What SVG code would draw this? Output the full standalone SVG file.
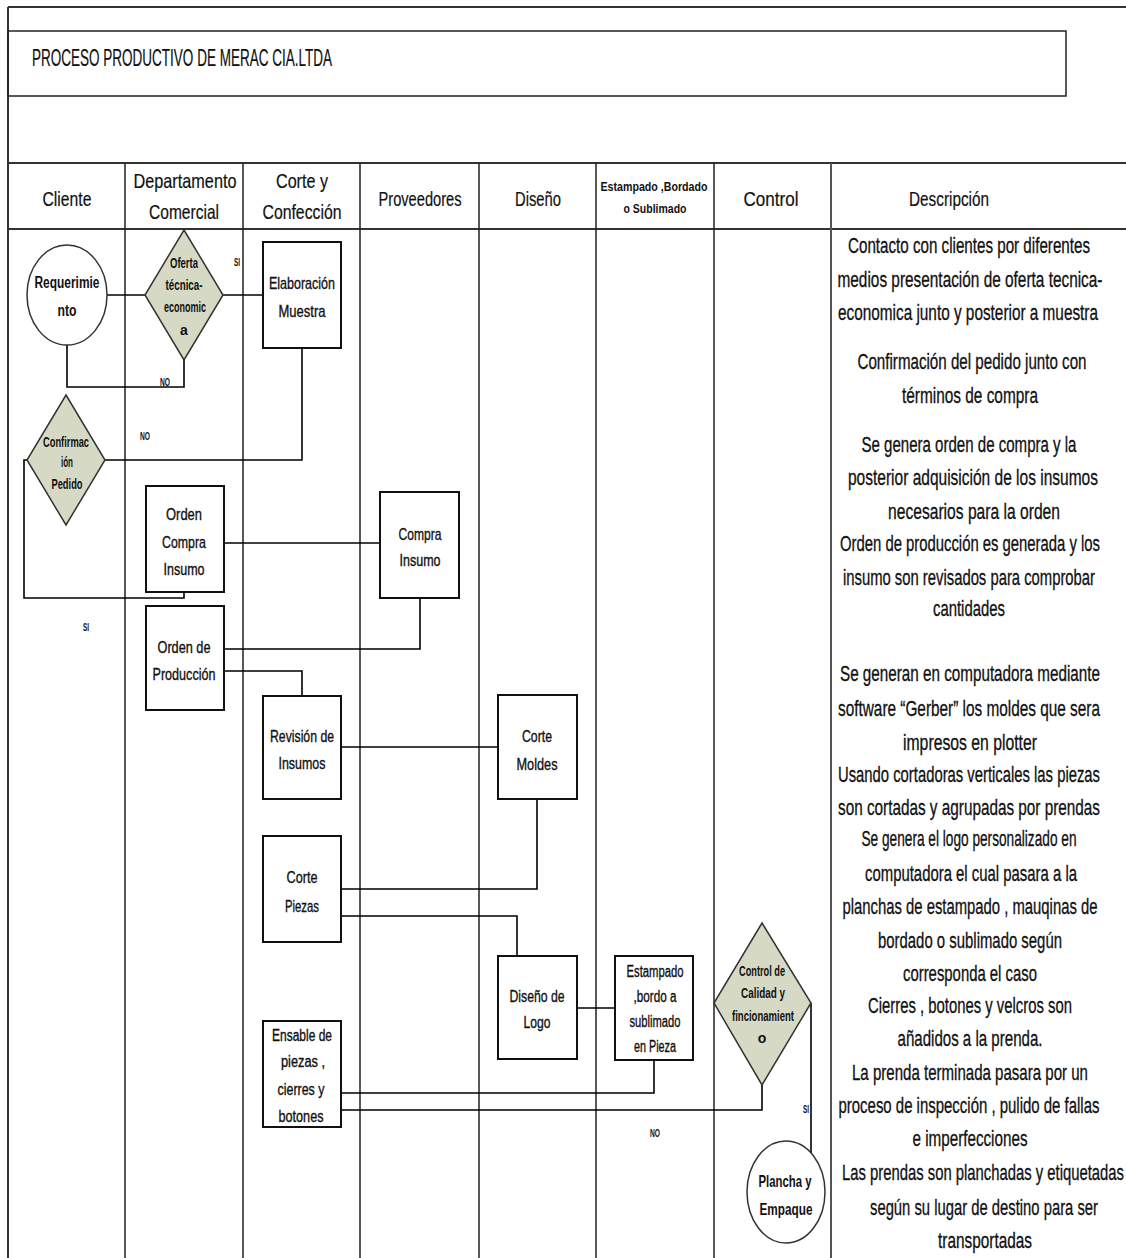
<svg xmlns="http://www.w3.org/2000/svg" width="1126" height="1258" viewBox="0 0 1126 1258">
<style>
text{font-family:"Liberation Sans",Arial,sans-serif;fill:#111}
.frame{stroke:#333;stroke-width:2;fill:none}
.lane{stroke:#222;stroke-width:1.5}
.box{fill:#fff;stroke:#111;stroke-width:2}
.dia{fill:#d6dac4;stroke:#333;stroke-width:1.5}
.circ{fill:#fff;stroke:#333;stroke-width:1.5}
.conn path{fill:none;stroke:#000;stroke-width:1.6}
.h{font-size:21px;text-anchor:middle;stroke:#111;stroke-width:0.2}
.d{font-size:13.75px;text-anchor:middle;stroke:#111;stroke-width:0.2}
.n{font-size:17px;text-anchor:middle;stroke:#111;stroke-width:0.35}
.s{font-size:16px;text-anchor:middle;stroke:#111;stroke-width:0.35}
.m{font-size:14px;text-anchor:middle;font-weight:bold}
.lbl{font-size:10px;text-anchor:middle;font-weight:bold}
</style>
<rect width="1126" height="1258" fill="#fff"/>
<g id="frame">
<path class="frame" d="M8,7 H1126 M8,7 V1258 M8,163 H1126 M8,229 H1126"/>
<rect x="8" y="31" width="1058" height="65" fill="none" stroke="#222" stroke-width="1.5"/>
<text x="32" y="66" font-size="23" stroke="#111" stroke-width="0.2" textLength="300" lengthAdjust="spacingAndGlyphs">PROCESO PRODUCTIVO DE MERAC CIA.LTDA</text>
</g>
<g id="lanes">
<path class="lane" d="M125,163 V1258 M243,163 V1258 M360,163 V1258 M479,163 V1258 M596,163 V1258 M714,163 V1258"/>
<path d="M831,163 V1258" stroke="#555" stroke-width="2"/>
<text class="h" x="67" y="206" textLength="49" lengthAdjust="spacingAndGlyphs">Cliente</text>
<text class="h" x="185" y="188" textLength="103" lengthAdjust="spacingAndGlyphs">Departamento</text>
<text class="h" x="184" y="219" textLength="70" lengthAdjust="spacingAndGlyphs">Comercial</text>
<text class="h" x="302" y="188" textLength="52" lengthAdjust="spacingAndGlyphs">Corte y</text>
<text class="h" x="302" y="219" textLength="79" lengthAdjust="spacingAndGlyphs">Confección</text>
<text class="h" x="420" y="206" textLength="83" lengthAdjust="spacingAndGlyphs">Proveedores</text>
<text class="h" x="538" y="206" textLength="46" lengthAdjust="spacingAndGlyphs">Diseño</text>
<text x="654" y="191" font-size="13" font-weight="bold" text-anchor="middle" textLength="107" lengthAdjust="spacingAndGlyphs">Estampado ,Bordado</text>
<text x="655" y="213" font-size="13" font-weight="bold" text-anchor="middle" textLength="63" lengthAdjust="spacingAndGlyphs">o Sublimado</text>
<text class="h" x="771" y="206" textLength="55" lengthAdjust="spacingAndGlyphs">Control</text>
<text class="h" x="949" y="206" textLength="80" lengthAdjust="spacingAndGlyphs">Descripción</text>
</g>
<g id="connectors" class="conn">
<path d="M107,295 H145"/>
<path d="M223,295 H263"/>
<path d="M67,345 V387 H184 V360"/>
<path d="M302,348 V460 H105"/>
<path d="M27,460 H24 V598 H184 V592"/>
<path d="M224,543 H380"/>
<path d="M420,598 V649 H224"/>
<path d="M224,671 H302 V696"/>
<path d="M341,747 H498"/>
<path d="M537,799 V889 H341"/>
<path d="M341,916 H517 V956"/>
<path d="M577,1008 H615"/>
<path d="M654,1060 V1093 H341"/>
<path d="M762,1085 V1110 H341"/>
<path d="M811,1003 V1154"/>
<text class="lbl" x="237" y="266" textLength="6" lengthAdjust="spacingAndGlyphs">SI</text>
<text class="lbl" x="165" y="386" textLength="10" lengthAdjust="spacingAndGlyphs">NO</text>
<text class="lbl" x="145" y="440" textLength="10" lengthAdjust="spacingAndGlyphs">NO</text>
<text class="lbl" x="86" y="631" textLength="6" lengthAdjust="spacingAndGlyphs">SI</text>
<text class="lbl" x="655" y="1137" textLength="10" lengthAdjust="spacingAndGlyphs">NO</text>
<text class="lbl" x="806" y="1113" textLength="6" lengthAdjust="spacingAndGlyphs">SI</text>
</g>
<g id="n-requerimiento">
<ellipse class="circ" cx="67" cy="295" rx="40" ry="50"/>
<text x="67" y="288" font-size="16" font-weight="bold" text-anchor="middle" textLength="65" lengthAdjust="spacingAndGlyphs">Requerimie</text>
<text x="67" y="316" font-size="16" font-weight="bold" text-anchor="middle" textLength="19" lengthAdjust="spacingAndGlyphs">nto</text>
</g>
<g id="n-oferta">
<polygon class="dia" points="184,230 223,295 184,360 145,295"/>
<text class="m" x="184" y="268" textLength="28" lengthAdjust="spacingAndGlyphs">Oferta</text>
<text class="m" x="184" y="290" textLength="37" lengthAdjust="spacingAndGlyphs">técnica-</text>
<text class="m" x="185" y="312" textLength="42" lengthAdjust="spacingAndGlyphs">economic</text>
<text class="m" x="184" y="335">a</text>
</g>
<g id="n-elaboracion">
<rect class="box" x="263" y="242" width="78" height="106"/>
<text class="n" x="302" y="289" textLength="66" lengthAdjust="spacingAndGlyphs">Elaboración</text>
<text class="n" x="302" y="317" textLength="47" lengthAdjust="spacingAndGlyphs">Muestra</text>
</g>
<g id="n-confirmacion">
<polygon class="dia" points="66,395 105,460 66,525 27,460"/>
<text class="m" x="66" y="447" textLength="46" lengthAdjust="spacingAndGlyphs">Confirmac</text>
<text class="m" x="67" y="467" textLength="12" lengthAdjust="spacingAndGlyphs">ión</text>
<text class="m" x="67" y="489" textLength="31" lengthAdjust="spacingAndGlyphs">Pedido</text>
</g>
<g id="n-orden-compra">
<rect class="box" x="146" y="486" width="78" height="106"/>
<text class="n" x="184" y="520" textLength="36" lengthAdjust="spacingAndGlyphs">Orden</text>
<text class="n" x="184" y="548" textLength="44" lengthAdjust="spacingAndGlyphs">Compra</text>
<text class="n" x="184" y="575" textLength="41" lengthAdjust="spacingAndGlyphs">Insumo</text>
</g>
<g id="n-compra-insumo">
<rect class="box" x="380" y="492" width="79" height="106"/>
<text class="n" x="420" y="540" textLength="43" lengthAdjust="spacingAndGlyphs">Compra</text>
<text class="n" x="420" y="566" textLength="41" lengthAdjust="spacingAndGlyphs">Insumo</text>
</g>
<g id="n-orden-produccion">
<rect class="box" x="146" y="606" width="78" height="104"/>
<text class="n" x="184" y="653" textLength="53" lengthAdjust="spacingAndGlyphs">Orden de</text>
<text class="n" x="184" y="680" textLength="63" lengthAdjust="spacingAndGlyphs">Producción</text>
</g>
<g id="n-revision">
<rect class="box" x="263" y="696" width="78" height="103"/>
<text class="n" x="302" y="742" textLength="64" lengthAdjust="spacingAndGlyphs">Revisión de</text>
<text class="n" x="302" y="769" textLength="47" lengthAdjust="spacingAndGlyphs">Insumos</text>
</g>
<g id="n-corte-moldes">
<rect class="box" x="498" y="695" width="79" height="104"/>
<text class="n" x="537" y="742" textLength="30" lengthAdjust="spacingAndGlyphs">Corte</text>
<text class="n" x="537" y="770" textLength="41" lengthAdjust="spacingAndGlyphs">Moldes</text>
</g>
<g id="n-corte-piezas">
<rect class="box" x="263" y="836" width="78" height="106"/>
<text class="n" x="302" y="883" textLength="31" lengthAdjust="spacingAndGlyphs">Corte</text>
<text class="n" x="302" y="912" textLength="34" lengthAdjust="spacingAndGlyphs">Piezas</text>
</g>
<g id="n-diseno-logo">
<rect class="box" x="498" y="956" width="79" height="103"/>
<text class="n" x="537" y="1002" textLength="55" lengthAdjust="spacingAndGlyphs">Diseño de</text>
<text class="n" x="537" y="1028" textLength="27" lengthAdjust="spacingAndGlyphs">Logo</text>
</g>
<g id="n-estampado">
<rect class="box" x="615" y="956" width="78" height="104"/>
<text class="s" x="655" y="977" textLength="57" lengthAdjust="spacingAndGlyphs">Estampado</text>
<text class="s" x="655" y="1002" textLength="43" lengthAdjust="spacingAndGlyphs">,bordo a</text>
<text class="s" x="655" y="1027" textLength="51" lengthAdjust="spacingAndGlyphs">sublimado</text>
<text class="s" x="655" y="1052" textLength="42" lengthAdjust="spacingAndGlyphs">en Pieza</text>
</g>
<g id="n-control">
<polygon class="dia" points="762,923 811,1003 762,1085 714,1003"/>
<text class="m" x="762" y="976" textLength="46" lengthAdjust="spacingAndGlyphs">Control de</text>
<text class="m" x="763" y="998" textLength="44" lengthAdjust="spacingAndGlyphs">Calidad  y</text>
<text class="m" x="763" y="1021" textLength="62" lengthAdjust="spacingAndGlyphs">fincionamient</text>
<text class="m" x="762" y="1043">o</text>
</g>
<g id="n-ensable">
<rect class="box" x="263" y="1021" width="78" height="106"/>
<text class="s" x="302" y="1041" textLength="60" lengthAdjust="spacingAndGlyphs">Ensable de</text>
<text class="s" x="303" y="1067" textLength="44" lengthAdjust="spacingAndGlyphs">piezas ,</text>
<text class="s" x="301" y="1095" textLength="47" lengthAdjust="spacingAndGlyphs">cierres y</text>
<text class="s" x="301" y="1122" textLength="45" lengthAdjust="spacingAndGlyphs">botones</text>
</g>
<g id="n-plancha">
<ellipse class="circ" cx="786" cy="1192" rx="39" ry="51"/>
<text x="785" y="1187" font-size="17" font-weight="bold" text-anchor="middle" textLength="53" lengthAdjust="spacingAndGlyphs">Plancha y</text>
<text x="786" y="1215" font-size="17" font-weight="bold" text-anchor="middle" textLength="53" lengthAdjust="spacingAndGlyphs">Empaque</text>
</g>
<g id="descripcion" transform="scale(1,1.6)">
<text class="d" x="969" y="158.125" textLength="242" lengthAdjust="spacingAndGlyphs">Contacto con clientes por diferentes</text>
<text class="d" x="970" y="179.375" textLength="265" lengthAdjust="spacingAndGlyphs">medios presentación de oferta tecnica-</text>
<text class="d" x="968" y="200" textLength="260" lengthAdjust="spacingAndGlyphs">economica junto y posterior a muestra</text>
<text class="d" x="972" y="230.625" textLength="229" lengthAdjust="spacingAndGlyphs">Confirmación del pedido junto con</text>
<text class="d" x="970" y="251.875" textLength="136" lengthAdjust="spacingAndGlyphs">términos de compra</text>
<text class="d" x="969" y="282.5" textLength="215" lengthAdjust="spacingAndGlyphs">Se genera orden de compra y la</text>
<text class="d" x="973" y="303.125" textLength="250" lengthAdjust="spacingAndGlyphs">posterior adquisición de los insumos</text>
<text class="d" x="974" y="324.375" textLength="172" lengthAdjust="spacingAndGlyphs">necesarios para la orden</text>
<text class="d" x="970" y="344.375" textLength="260" lengthAdjust="spacingAndGlyphs">Orden de producción es generada y los</text>
<text class="d" x="969" y="365.625" textLength="252" lengthAdjust="spacingAndGlyphs">insumo son revisados para comprobar</text>
<text class="d" x="969" y="385" textLength="72" lengthAdjust="spacingAndGlyphs">cantidades</text>
<text class="d" x="970" y="425.625" textLength="260" lengthAdjust="spacingAndGlyphs">Se generan en computadora mediante</text>
<text class="d" x="969" y="447.5" textLength="262" lengthAdjust="spacingAndGlyphs">software “Gerber” los moldes que sera</text>
<text class="d" x="970" y="468.75" textLength="134" lengthAdjust="spacingAndGlyphs">impresos en plotter</text>
<text class="d" x="969" y="488.75" textLength="262" lengthAdjust="spacingAndGlyphs">Usando cortadoras verticales las piezas</text>
<text class="d" x="969" y="509.375" textLength="262" lengthAdjust="spacingAndGlyphs">son cortadas  y agrupadas por prendas</text>
<text class="d" x="969" y="528.75" textLength="215" lengthAdjust="spacingAndGlyphs">Se genera el logo personalizado en</text>
<text class="d" x="971" y="550.625" textLength="212" lengthAdjust="spacingAndGlyphs">computadora el cual pasara a la</text>
<text class="d" x="970" y="571.25" textLength="255" lengthAdjust="spacingAndGlyphs">planchas de estampado , mauqinas de</text>
<text class="d" x="970" y="592.5" textLength="184" lengthAdjust="spacingAndGlyphs">bordado o sublimado según</text>
<text class="d" x="970" y="613.125" textLength="134" lengthAdjust="spacingAndGlyphs">corresponda el caso</text>
<text class="d" x="970" y="633.125" textLength="204" lengthAdjust="spacingAndGlyphs">Cierres , botones y velcros son</text>
<text class="d" x="970" y="653.75" textLength="145" lengthAdjust="spacingAndGlyphs">añadidos a la prenda.</text>
<text class="d" x="970" y="675" textLength="236" lengthAdjust="spacingAndGlyphs">La prenda terminada pasara por un</text>
<text class="d" x="969" y="695.625" textLength="261" lengthAdjust="spacingAndGlyphs">proceso de inspección , pulido de fallas</text>
<text class="d" x="970" y="716.25" textLength="115" lengthAdjust="spacingAndGlyphs">e imperfecciones</text>
<text class="d" x="983" y="737.5" textLength="282" lengthAdjust="spacingAndGlyphs">Las prendas son planchadas y etiquetadas</text>
<text class="d" x="984" y="759.375" textLength="228" lengthAdjust="spacingAndGlyphs">según su lugar de destino para ser</text>
<text class="d" x="985" y="780" textLength="94" lengthAdjust="spacingAndGlyphs">transportadas</text>
</g>
</svg>
